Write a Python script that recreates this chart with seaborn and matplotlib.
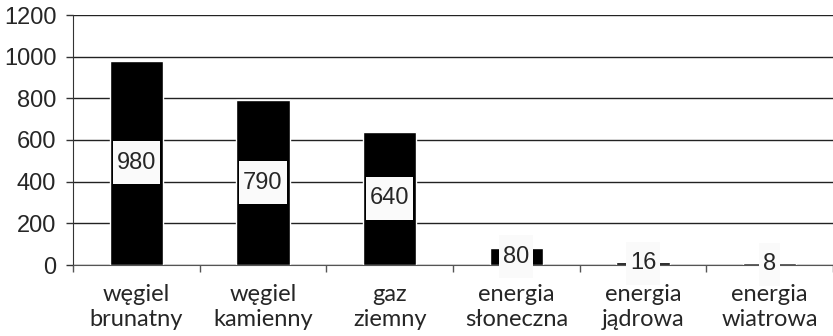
import matplotlib
matplotlib.use("Agg")
import matplotlib.pyplot as plt
import seaborn as sns
import pandas as pd

categories = ["węgiel\nbrunatny", "węgiel\nkamienny", "gaz\nziemny",
              "energia\nsłoneczna", "energia\njądrowa", "energia\nwiatrowa"]
values = [980, 790, 640, 80, 16, 8]
y_ticks = [0, 200, 400, 600, 800, 1000, 1200]

sns.set_style("white")
plt.rcParams["font.family"] = ["Liberation Sans", "DejaVu Sans"]

df = pd.DataFrame({"kategoria": categories, "wartosc": values})

fig = plt.figure(figsize=(8.33, 3.36), dpi=100)
ax = fig.add_axes([73 / 833, 71 / 336, 760 / 833, 250 / 336])

sns.barplot(data=df, x="kategoria", y="wartosc", color="black", width=0.42,
            saturation=1, ax=ax, zorder=2)

ax.set_ylim(0, 1200)
ax.set_xlim(-0.5, len(categories) - 0.5)
ax.set_yticks(y_ticks)
ax.set_yticklabels([str(t) for t in y_ticks], fontsize=17)
ax.yaxis.grid(True, color="#222222", linewidth=1)
ax.set_axisbelow(True)

for s in ["top", "right"]:
    ax.spines[s].set_visible(False)
ax.spines["left"].set_color("#333333")
ax.spines["bottom"].set_color("#555555")

ax.tick_params(axis="y", which="major", direction="out", length=5, width=1,
               color="#333333", left=True, pad=7)
ax.set_xticks([i - 0.5 for i in range(len(categories) + 1)], minor=True)
ax.tick_params(axis="x", which="minor", direction="out", length=5, width=1,
               color="#555555", bottom=True)
ax.tick_params(axis="x", which="major", length=0, pad=14)
ax.set_xticklabels(categories, fontsize=17, family=["Lato", "DejaVu Sans"],
                   linespacing=1.2)
ax.set_xlabel("")
ax.set_ylabel("")

# etykiety wartości w jasnych ramkach na środku słupka
for i, v in enumerate(values):
    t = ax.text(i, v / 2, str(v), ha="center", va="center", fontsize=17,
                zorder=5,
                bbox=dict(boxstyle="square,pad=0.17", facecolor="#fafafa",
                          edgecolor="none"))
    t.get_bbox_patch().set_mutation_aspect(2.6)

fig.savefig("out.png", dpi=100)
